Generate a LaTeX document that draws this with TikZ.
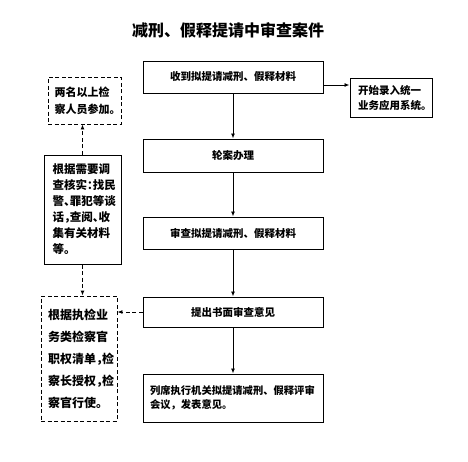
\documentclass[tikz,border=0pt]{standalone}
\usepackage{fontspec}
\newfontfamily\cjk{Noto Sans CJK SC}
\newfontfamily\cjkh{Noto Sans CJK SC}[RawFeature=+halt]
\usetikzlibrary{arrows.meta}
\begin{document}
\begin{tikzpicture}[x=1pt,y=-1pt,
  box/.style={draw, line width=1pt, minimum width=180pt, inner sep=0pt,
    font=\cjk\bfseries\fontsize{10.5}{14}\selectfont},
  sbox/.style={draw, line width=1pt, inner sep=0pt, align=left,
    font=\cjk\bfseries\fontsize{10.5}{15}\selectfont},
  dbox/.style={draw, line width=0.9pt, dash pattern=on 4pt off 2.5pt, inner sep=0pt, align=left},
  arr/.style={draw, line width=0.9pt, -{Latex[length=5pt,width=4pt]}},
  darr/.style={arr, dash pattern=on 4pt off 2.5pt}]
\useasboundingbox (0,0) rectangle (468,461);

\node[font=\cjk\bfseries\fontsize{16}{16}\selectfont] (title) at (228,30) {减刑、假释提请中审查案件};

\node[box, minimum height=32pt] (b1) at (233,77) {收到拟提请减刑、假释材料};
\node[box, minimum height=33pt] (b2) at (233,155.5) {轮案办理};
\node[box, minimum height=32pt] (b3) at (233,233) {审查拟提请减刑、假释材料};
\node[box, minimum height=30pt] (b4) at (233,312) {提出书面审查意见};
\node[box, minimum height=48pt, align=left, text width=166pt,
  font=\cjk\bfseries\fontsize{10.3}{14.5}\selectfont] (b5) at (233,398)
  {列席执行机关拟提请减刑、假释评审\\会议，发表意见。};

\node[sbox, minimum width=82pt, minimum height=39pt, text width=66pt] (side) at (391,97.5)
  {开始录入统一\\业务应用系统。};

\node[dbox, minimum width=73pt, minimum height=47pt, text width=60pt,
  font=\cjkh\bfseries\fontsize{11}{17}\selectfont] (l1) at (84.5,100.5)
  {两名以上检\\察人员参加。};
\node[draw, line width=1pt, inner sep=0pt, align=left, minimum width=77pt, minimum height=109pt,
  text width=60pt, font=\cjkh\bfseries\fontsize{11.5}{16}\selectfont] (l2) at (82.5,209.5)
  {根据需要调\\查核实：找民\\警、罪犯等谈\\话，查阅、收\\集有关材料\\等。};
\node[dbox, minimum width=76pt, minimum height=125pt, text width=62pt,
  font=\cjkh\bfseries\fontsize{12}{22}\selectfont] (l3) at (79,358.5)
  {根据执检业\\务类检察官\\职权清单，检\\察长授权，检\\察官行使。};

\draw[arr] (b1) -- (b2);
\draw[arr] (b2) -- (b3);
\draw[arr] (b3) -- (b4);
\draw[arr] (b4) -- (b5);
\coordinate (a1) at ([yshift=-8pt]b1.east);
\draw[arr] (a1) -- (a1 -| side.west);

\draw[darr] (l2.north) -- (l2.north |- l1.south);
\draw[darr] (l2.south) -- (l2.south |- l3.north);
\draw[darr] (b4.west) -- (b4.west -| l3.east);
\end{tikzpicture}
\end{document}
